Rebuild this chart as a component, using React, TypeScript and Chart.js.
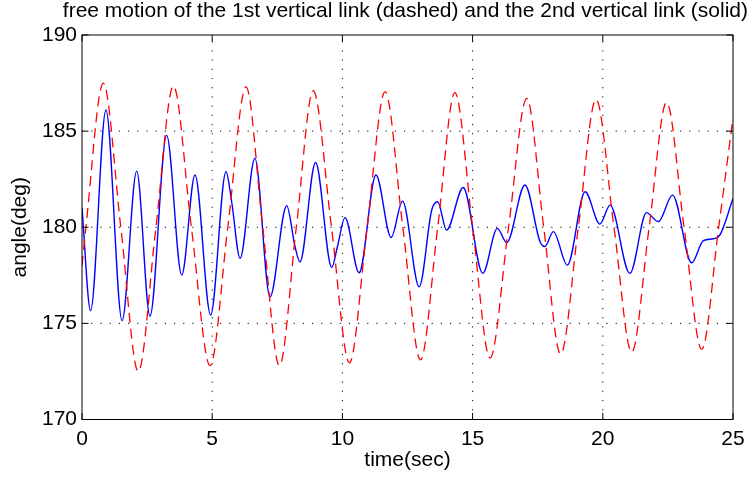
import { useEffect, useRef } from "react";
import { Chart, registerables } from "chart.js";

Chart.register(...registerables);

const titleText =
  "free motion of the 1st vertical link (dashed) and the 2nd vertical link (solid)";
const xLabel = "time(sec)";
const yLabel = "angle(deg)";

const xTickValues = [0, 5, 10, 15, 20, 25];
const yTickValues = [170, 175, 180, 185, 190];

// 1st vertical link (dashed, red)
const redTimes = [
  0, 0.15, 0.82, 1.49, 2.16, 2.84, 3.51, 4.2, 4.92, 5.6, 6.3, 6.94, 7.58, 8.23,
  8.88, 9.58, 10.27, 10.95, 11.64, 12.32, 13.0, 13.66, 14.32, 15.0, 15.67,
  16.38, 17.08, 17.73, 18.38, 19.06, 19.74, 20.43, 21.11, 21.78, 22.45, 23.12,
  23.8, 24.45, 25,
];
const redAngles = [
  178.0, 180, 187.5, 180, 172.5, 180, 187.35, 180, 172.8, 180, 187.3, 180,
  172.8, 180, 187.1, 180, 172.95, 180, 187.05, 180, 173.1, 180, 187.0, 180,
  173.2, 180, 186.7, 180, 173.4, 180, 186.65, 180, 173.5, 180, 186.5, 180,
  173.65, 180, 185.7,
];

// 2nd vertical link (solid, blue)
const blueTimes = [
  0, 0.33, 0.92, 1.54, 2.1, 2.61, 3.25, 3.83, 4.34, 4.94, 5.53, 5.75, 6.07,
  6.64, 7.22, 7.86, 8.18, 8.37, 8.97, 9.59, 9.81, 10.1, 10.64, 11.29, 11.87,
  12.31, 12.95, 13.43, 13.66, 14.0, 14.64, 15.39, 15.95, 16.31, 17.01, 17.59,
  17.78, 18.1, 18.64, 19.32, 19.89, 20.28, 21.04, 21.68, 22.13, 22.68, 23.41,
  23.86, 24.24, 24.5, 25,
];
const blueAngles = [
  181.0, 175.66, 186.1, 175.14, 182.92, 175.38, 184.78, 177.51, 182.72, 175.43,
  182.89, 181.3, 178.38, 183.58, 176.38, 181.12, 179.0, 178.2, 183.37, 177.91,
  179.0, 180.5, 177.63, 182.72, 179.47, 181.36, 176.9, 180.9, 181.33, 179.85,
  182.07, 177.6, 179.94, 179.2, 182.2, 179.25, 179.0, 179.77, 178.03, 181.85,
  180.17, 181.15, 177.6, 180.76, 180.29, 181.67, 178.15, 179.3, 179.4, 179.6,
  181.5,
];

const FONT = "'Liberation Sans', Arial, Helvetica, sans-serif";
const FS = 21;

const zip = (xs: number[], ys: number[]) => xs.map((x, i) => ({ x, y: ys[i] }));

const gridPlugin = {
  id: "matlabGrid",
  beforeDatasetsDraw(chart: any) {
    const { ctx, chartArea, scales } = chart;
    const { left, right, top, bottom } = chartArea;
    ctx.save();
    ctx.strokeStyle = "#000";
    ctx.lineWidth = 1;
    ctx.setLineDash([1.2, 8]);
    ctx.beginPath();
    xTickValues.slice(1, -1).forEach((v) => {
      const px = scales.x.getPixelForValue(v);
      ctx.moveTo(px, bottom);
      ctx.lineTo(px, top);
    });
    yTickValues.slice(1, -1).forEach((v) => {
      const py = scales.y.getPixelForValue(v);
      ctx.moveTo(left, py);
      ctx.lineTo(right, py);
    });
    ctx.stroke();
    ctx.restore();
  },
  afterDatasetsDraw(chart: any) {
    const { ctx, chartArea, scales } = chart;
    const { left, right, top, bottom } = chartArea;
    const tl = 6.5;
    ctx.save();
    ctx.strokeStyle = "#000";
    ctx.lineWidth = 1;
    ctx.setLineDash([]);
    ctx.strokeRect(left, top, right - left, bottom - top);
    ctx.beginPath();
    xTickValues.forEach((v) => {
      const px = scales.x.getPixelForValue(v);
      ctx.moveTo(px, bottom);
      ctx.lineTo(px, bottom - tl);
      ctx.moveTo(px, top);
      ctx.lineTo(px, top + tl);
    });
    yTickValues.forEach((v) => {
      const py = scales.y.getPixelForValue(v);
      ctx.moveTo(left, py);
      ctx.lineTo(left + tl, py);
      ctx.moveTo(right, py);
      ctx.lineTo(right - tl, py);
    });
    ctx.stroke();
    ctx.restore();
  },
};

export default function App() {
  const ref = useRef<HTMLCanvasElement | null>(null);

  useEffect(() => {
    if (!ref.current) return;
    Chart.defaults.color = "#000";
    const chart = new Chart(ref.current, {
      type: "line",
      data: {
        datasets: [
          {
            label: "1st vertical link",
            data: zip(redTimes, redAngles),
            borderColor: "#ff0000",
            borderWidth: 1.3,
            borderDash: [10, 6],
            pointRadius: 0,
            cubicInterpolationMode: "monotone",
            fill: false,
          },
          {
            label: "2nd vertical link",
            data: zip(blueTimes, blueAngles),
            borderColor: "#0000ff",
            borderWidth: 1.4,
            pointRadius: 0,
            cubicInterpolationMode: "monotone",
            fill: false,
          },
        ],
      },
      options: {
        animation: false,
        responsive: false,
        devicePixelRatio: 1,
        layout: { padding: { left: 0, right: 7, top: 0, bottom: 0 } },
        plugins: {
          legend: { display: false },
          tooltip: { enabled: false },
          title: {
            display: true,
            align: "end",
            text: titleText,
            color: "#000",
            font: { family: FONT, size: FS, weight: "normal", lineHeight: 1 },
            padding: { top: 0.5, bottom: 13.5 },
          },
        },
        scales: {
          x: {
            type: "linear",
            min: 0,
            max: 25,
            afterBuildTicks: (s: any) => {
              s.ticks = xTickValues.map((v) => ({ value: v }));
            },
            afterFit: (s: any) => {
              s.height = 58.5;
              s.paddingRight = 22;
            },
            grid: { display: false, drawTicks: false },
            border: { display: false },
            ticks: {
              padding: 7,
              maxRotation: 0,
              autoSkip: false,
              color: "#000",
              font: { family: FONT, size: FS },
            },
            title: {
              display: true,
              text: xLabel,
              color: "#000",
              font: { family: FONT, size: FS },
              padding: { top: 0, bottom: 5 },
            },
          },
          y: {
            type: "linear",
            min: 170,
            max: 190,
            afterBuildTicks: (s: any) => {
              s.ticks = yTickValues.map((v) => ({ value: v }));
            },
            afterFit: (s: any) => {
              s.width = 82;
            },
            grid: { display: false, drawTicks: false },
            border: { display: false },
            ticks: {
              padding: 5,
              autoSkip: false,
              color: "#000",
              font: { family: FONT, size: FS },
            },
            title: {
              display: true,
              text: yLabel,
              color: "#000",
              font: { family: FONT, size: FS },
              padding: { top: 7.5, bottom: 0 },
            },
          },
        },
      },
      plugins: [gridPlugin],
    });
    return () => chart.destroy();
  }, []);

  return (
    <div style={{ position: "fixed", left: 0, top: 0, width: 755, height: 478, background: "#fff" }}>
      <canvas ref={ref} width={755} height={478} style={{ display: "block" }} />
    </div>
  );
}
